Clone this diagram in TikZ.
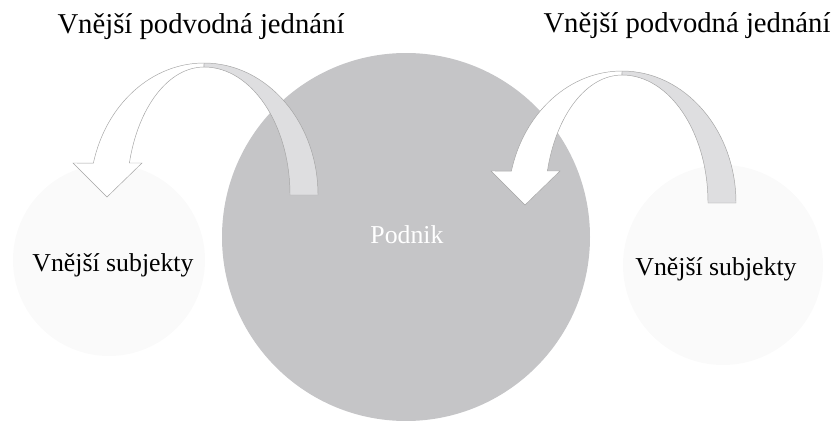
\documentclass[tikz,border=0pt]{standalone}
\usepackage{fontspec}
\setmainfont{Liberation Serif}
\usepackage{tikz}
\usetikzlibrary{positioning}
\definecolor{firmgray}{HTML}{C5C5C7}
\definecolor{ghost}{HTML}{FAFAFA}
\definecolor{ribbon}{HTML}{DEDEE0}
\definecolor{rim}{HTML}{A4A4A4}

% curved ribbon arrow, head on the left, tail on the right
\newcommand{\ribbonarrow}{%
  \filldraw[backpart] (318,195) arc[start angle=0,end angle=-90,x radius=114,y radius=132]
    -- (204,67) arc[start angle=-90,end angle=0,x radius=86,y radius=128] -- cycle;
  \filldraw[frontpart] (204,63) arc[start angle=-90,end angle=-166,x radius=114,y radius=132]
    -- (73,163) -- (107,197) -- (142,163) -- (129.4,163)
    arc[start angle=-165.5,end angle=-90,x radius=77,y radius=128] -- cycle;
}

\begin{document}
\begin{tikzpicture}[x=0.03cm,y=-0.03cm,
    lbl/.style={font=\fontsize{22}{24}\selectfont,anchor=base},
    toplbl/.style={font=\fontsize{24.5}{27}\selectfont,anchor=base},
    backpart/.style={fill=ribbon,draw=rim,line width=0.4pt},
    frontpart/.style={fill=white,draw=rim,line width=0.4pt}]
    \useasboundingbox (0,0) rectangle (835,421);

    % faint outer circles
    \fill[ghost] (109,260) circle (96);
    \fill[ghost] (723,265) circle (100);

    % the firm
    \fill[firmgray] (406,237) circle (184);

    % arrows
    \ribbonarrow
    \begin{scope}[shift={(418,8)}]
      \ribbonarrow
    \end{scope}

    % labels
    \node[toplbl] (fraudL) at (201,33) {Vnější podvodná jednání};
    \node[toplbl] (fraudR) at (687,32) {Vnější podvodná jednání};
    \node[lbl] (subjL) at (113,271) {Vnější subjekty};
    \node[lbl] (subjR) at (716,275) {Vnější subjekty};
    \node[lbl,white] (firm) at (407,243) {Podnik};
\end{tikzpicture}
\end{document}
